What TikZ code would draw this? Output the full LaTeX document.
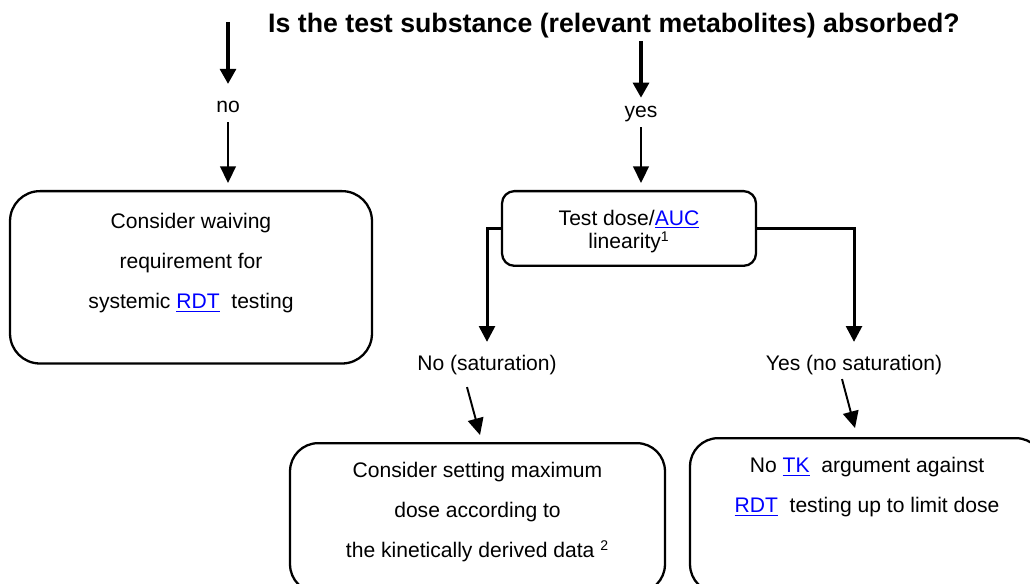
\documentclass[tikz,border=0pt]{standalone}
\usepackage{fontspec}
\setmainfont{Liberation Sans}
\usepackage{xcolor}
\usetikzlibrary{arrows.meta,positioning,calc}
\definecolor{lnkblue}{HTML}{0000FF}
\newcommand{\lnk}[1]{\textcolor{lnkblue}{\underline{#1}}}

\begin{document}
\begin{tikzpicture}[x=0.02cm, y=-0.02cm,
			lbl/.style = {font=\fontsize{12pt}{14pt}\selectfont, inner sep=0pt, text height=8.6pt, text depth=2.5pt},
			box/.style = {draw, line width=1.3pt, inner sep=0pt, align=center, anchor=north,
				font=\fontsize{12pt}{22.7pt}\selectfont},
			big/.style = {line width=1.9pt, -{Triangle[length=8.5pt, width=9pt]}},
			thin/.style = {line width=1.1pt, -{Triangle[length=9.5pt, width=9pt]}},
			elbow/.style = {line width=1.7pt, -{Triangle[length=9pt, width=9pt]}},
			]
		
					\useasboundingbox (0,0) rectangle (1030,584);
					
					% question
					\node[font=\fontsize{15.2pt}{17pt}\selectfont\bfseries] (title) at (614,26)
						{Is the test substance (relevant metabolites) absorbed?};
					\coordinate (noTop) at (228,22);
					
					% answers
					\node[lbl] (no) at (228,107) {no};
					\node[lbl] (yes) at (641,112) {yes};
					
					\node[box, rounded corners=17pt, minimum width=7.24cm,
						text height=66.9pt, text depth=31.2pt] (waive) at (191,190)
						{Consider waiving\\ requirement for\\ systemic \lnk{RDT}~ testing};
					\node[box, rounded corners=7pt, minimum width=5.08cm,
						text height=32.9pt, text depth=9.6pt,
						font=\fontsize{12pt}{13.6pt}\selectfont] (dose) at (629,190)
						{Test dose/\lnk{AUC}\\ linearity\textsuperscript{1}};
					
					\node[lbl] (nosat) at (487,365) {No (saturation)};
					\node[lbl] (yessat) at (854,365) {Yes (no saturation)};
					
					\node[box, rounded corners=16pt, minimum width=7.5cm,
						text height=65.2pt, text depth=19.8pt] (setmax) at (477.5,442)
						{Consider setting maximum\\ dose according to\\ the kinetically derived data \textsuperscript{2}};
					\node[box, rounded corners=16pt, minimum width=7.08cm,
						text height=42.5pt, text depth=45.4pt] (nolimit) at (867,437)
						{No \lnk{TK}~ argument against\\ \lnk{RDT}~ testing up to limit dose};
					
					\draw[big, shorten >=7.4pt] (noTop) -- (no.north);    % <---
					\draw[big, shorten <=-2pt, shorten >=2.4pt] (title.south -| yes) -- (yes.north);
					\draw[thin, shorten <=3pt, shorten >=4pt] (no.south) -- (no.south |- waive.north);
					\draw[thin, shorten <=3pt, shorten >=4pt] (yes.south) -- (yes.south |- dose.north);
					
					\draw[elbow, shorten >=7.4pt] (dose.west) -| (nosat.north);
					\draw[elbow, shorten >=7.4pt] (dose.east) -| (yessat.north);
					
					\draw[thin] ($(nosat.south)+(-20,12)$) -- ($(setmax.north)+(2.5,-7)$);
					\draw[thin] ($(yessat.south)+(-12,4)$) -- ($(nolimit.north)+(-12,-9)$);
					
		\end{tikzpicture}
\end{document}
